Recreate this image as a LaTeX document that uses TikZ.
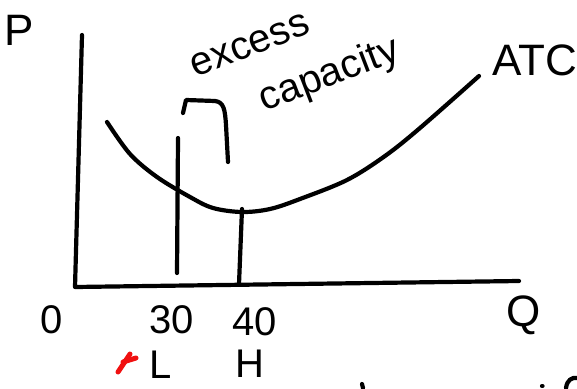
\documentclass[tikz,border=0pt]{standalone}
\usepackage{fontspec}
\setmainfont{Liberation Sans}
\usetikzlibrary{positioning}
\definecolor{clrInk}{HTML}{000000}
\definecolor{clrMark}{HTML}{F01010}
\tikzset{
  ink/.style={draw=clrInk, line width=4.2pt, line cap=round, line join=round},
  axis line/.style={ink},
  cost curve/.style={ink},
  qty line/.style={ink},
  hand label/.style={inner sep=0pt, font=\fontsize{40}{40}\selectfont},
  big label/.style={inner sep=0pt, font=\fontsize{44}{44}\selectfont},
  note label/.style={inner sep=0pt, text depth=0pt, font=\fontsize{40}{40}\selectfont, rotate=21},
  red mark/.style={draw=clrMark, line width=5pt, line cap=round},
}

\begin{document}
\begin{tikzpicture}[x=1pt, y=-1pt]
  \useasboundingbox (0,0) rectangle (577,388);

  % Axes
  \coordinate (Ptop) at (82,35);
  \coordinate (origin) at (75,287);
  \coordinate (Qend) at (519,281);
  \draw[axis line] (Ptop) -- (origin) -- (Qend);

  % ATC curve
  \draw[cost curve] plot[smooth, tension=0.55] coordinates {(107,122) (130,154) (157,177) (190,197) (213,208) (242,212) (270,209) (300,199) (347,180) (385,156) (420,128) (479,76)};

  % Quantities
  \coordinate (q30top) at (178,138);
  \coordinate (q30foot) at (177,273);
  \coordinate (q40top) at (242,209);
  \coordinate (q40foot) at (239,284);
  \draw[qty line] (q30top) -- (q30foot);
  \draw[qty line] (q40top) -- (q40foot);

  % Bracket
  \coordinate (brL) at (183,113);
  \coordinate (brR) at (228,162);
  \draw[ink] (brL) -- (186,100) -- (215,101) .. controls (224,102) and (225,110) .. (226,125) -- (brR);

  % Labels
  \node[big label] (P) at (19,30) {P};
  \node[big label] (ATC) at (535,60) {ATC};
  \node[hand label] (zero) at (52,320) {0};
  \node[hand label] (q30) at (172,320) {30};
  \node[hand label] (q40) at (255,322) {40};
  \node[big label] (Q) at (524,315) {Q};
  \node[hand label] (L) at (161,365) {L};
  \node[hand label] (H) at (250,364) {H};
  \node[note label] (excess) at (250,45) {excess};
  \node[note label] (capacity) at (328,72) {capacity};

  % Marks
  \draw[red mark] (118,372) -- (130,354);
  \draw[red mark] (123,362) -- (136,358);
  \draw[ink] (362,384) -- (363,388);
  \draw[ink] (542,386) -- (542.5,386);
  \draw[ink] (566,388) .. controls (567,380) and (572,377) .. (577,378);
\end{tikzpicture}
\end{document}
